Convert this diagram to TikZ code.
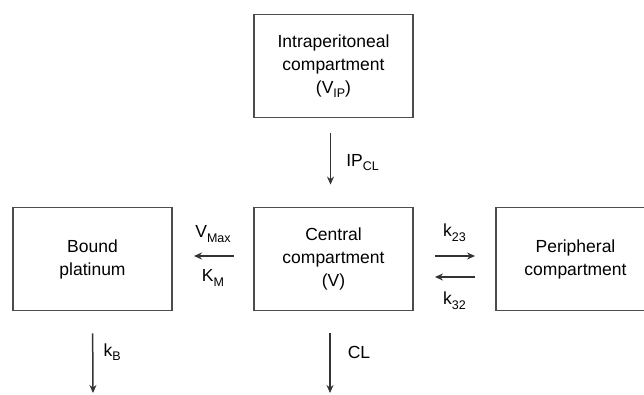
\documentclass[tikz,border=0pt]{standalone}
\usepackage{fontspec}
\setmainfont{Liberation Sans}
\usetikzlibrary{positioning,arrows.meta}
\newcommand{\lowsub}[1]{\raisebox{-0.5ex}{\fontsize{12.5}{12.5}\selectfont #1}}

\begin{document}
\begin{tikzpicture}[x=1pt,y=1pt,node distance=240pt,on grid,
	comp/.style={draw=black!70,line width=1.9pt,minimum width=159pt,minimum height=103pt,align=center,
		font=\fontsize{17.5}{23}\selectfont},
	flow/.style={-{Stealth[length=8pt,width=7pt]},draw=black!80,line width=1.5pt},
	lbl/.style={font=\fontsize{17.5}{21}\selectfont,inner sep=0pt}]
	\useasboundingbox (0,0) rectangle (644,-395);
	\begin{scope}
	\clip (0,0) rectangle (644,-395);
	\node[comp] (V) at (333.5,-259) {Central\\compartment\\(V)};
	\node[comp] (VIP) [above=193pt of V] {Intraperitoneal\\compartment\\(V\lowsub{IP})};
	\node[comp] (B) [left=241pt of V] {Bound\\platinum};
	\node[comp] (P) [right=242pt of V] {Peripheral\\compartment};
	\end{scope}
	\coordinate (outB) at (93,-393);
	\coordinate (outV) at (330,-393);

	\draw[flow,shorten <=15pt,shorten >=22pt] ([xshift=-3pt]VIP.south) -- node[lbl,right=15pt] {IP\lowsub{CL}} ([xshift=-3pt]V.north);
	\draw[flow,shorten <=19pt,shorten >=21pt] ([yshift=3pt]V.west) -- node[lbl,above=13pt] {V\lowsub{Max}}
		node[lbl,below=13pt] {K\lowsub{M}} ([yshift=3pt]B.east);
	\draw[flow,shorten <=21pt,shorten >=20pt] ([yshift=3pt]V.east) -- node[lbl,above=14pt] {k\lowsub{23}} ([yshift=3pt]P.west);
	\draw[flow,shorten <=20pt,shorten >=21pt] ([yshift=-18pt]P.west) -- node[lbl,below=14pt] {k\lowsub{32}} ([yshift=-18pt]V.east);
	\draw[flow,shorten <=22pt] (B.south) -- node[lbl,right=10pt] {k\lowsub{B}} (outB);
	\draw[flow,shorten <=22pt] (V.south -| outV) -- node[lbl,right=17pt] {CL} (outV);
\end{tikzpicture}
\end{document}
